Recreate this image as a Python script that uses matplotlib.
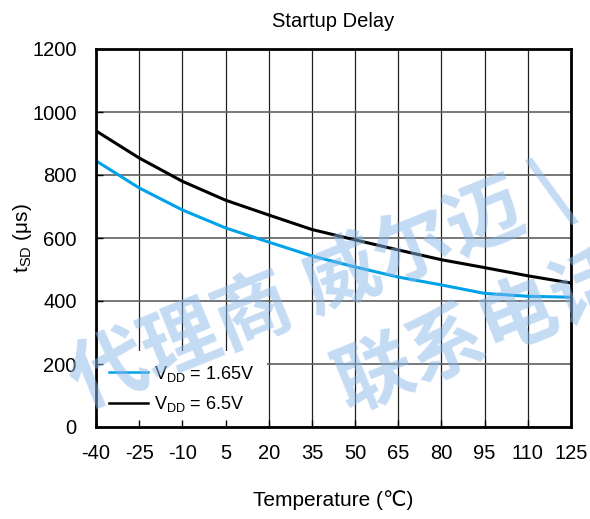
import matplotlib
matplotlib.use("Agg")
import matplotlib.pyplot as plt

plt.rcParams['font.family'] = ['Liberation Sans', 'DejaVu Sans']
plt.rcParams['mathtext.fontset'] = 'custom'
plt.rcParams['mathtext.rm'] = 'Liberation Sans'
plt.rcParams['axes.unicode_minus'] = False

temps = [-40, -25, -10, 5, 20, 35, 50, 65, 80, 95, 110, 125]
vdd_165 = [845, 759, 689, 632, 587, 543, 508, 476, 451, 424, 415, 412]
vdd_65 = [940, 854, 780, 720, 673, 627, 594, 562, 531, 506, 480, 457]
xticks = [-40, -25, -10, 5, 20, 35, 50, 65, 80, 95, 110, 125]
yticks = [0, 200, 400, 600, 800, 1000, 1200]
labels = ['V$_{\\mathregular{DD}}$ = 1.65V', 'V$_{\\mathregular{DD}}$ = 6.5V']

fig = plt.figure(figsize=(5.9, 5.19), dpi=100)
ax = fig.add_axes([96/590, 1-427/519, (571-96)/590, (427-49)/519])

for x in xticks:
    ax.axvline(x, color='#202020', lw=0.9, zorder=1)
for y in yticks:
    ax.axhline(y, color='#606060', lw=1.2, zorder=1)

ax.plot(temps, vdd_165, color='#00A2E8', lw=2.2, label=labels[0], zorder=3)
ax.plot(temps, vdd_65, color='black', lw=2.2, label=labels[1], zorder=3)

ax.set_xlim(-40, 125)
ax.set_ylim(0, 1200)
ax.set_xticks(xticks)
ax.set_yticks(yticks)
ax.tick_params(direction='in', length=5, width=1, labelsize=14.5)
ax.tick_params(axis='x', pad=12)
ax.tick_params(axis='y', pad=14)
ax.xaxis.set_zorder(6)
ax.yaxis.set_zorder(6)
for s in ax.spines.values():
    s.set_linewidth(2)
    s.set_zorder(10)

leg = ax.legend(loc='lower left', bbox_to_anchor=(0, 0), borderaxespad=0,
                frameon=True, fancybox=False, edgecolor='none', facecolor='white',
                framealpha=1, fontsize=13, handlelength=2.2, handletextpad=0.3,
                labelspacing=0.6, borderpad=0.7)
for l in leg.get_lines():
    l.set_linewidth(1.8)
leg.set_zorder(5)

ax.set_title('Startup Delay', fontsize=14.5, pad=16)
ax.set_ylabel('t$_{\\mathregular{SD}}$ (\u03bcs)', fontsize=15)
ax.yaxis.set_label_coords(-0.13, 0.5)
ax.set_xlabel('Temperature (\u2103)', fontsize=15)
ax.xaxis.set_label_coords(0.5, -0.167)

wm = dict(color='#8ab8ea', alpha=0.5, fontsize=56, fontweight='bold', rotation=22,
          rotation_mode='anchor', ha='left', va='baseline',
          family=['Noto Sans CJK SC'], zorder=20)
fig.text(82/590, 1-408/519, '代理商 威尔迈 \\', **wm)
fig.text(348/590, 1-412/519, '联系电话', **wm)

fig.savefig('out.png', dpi=100)
